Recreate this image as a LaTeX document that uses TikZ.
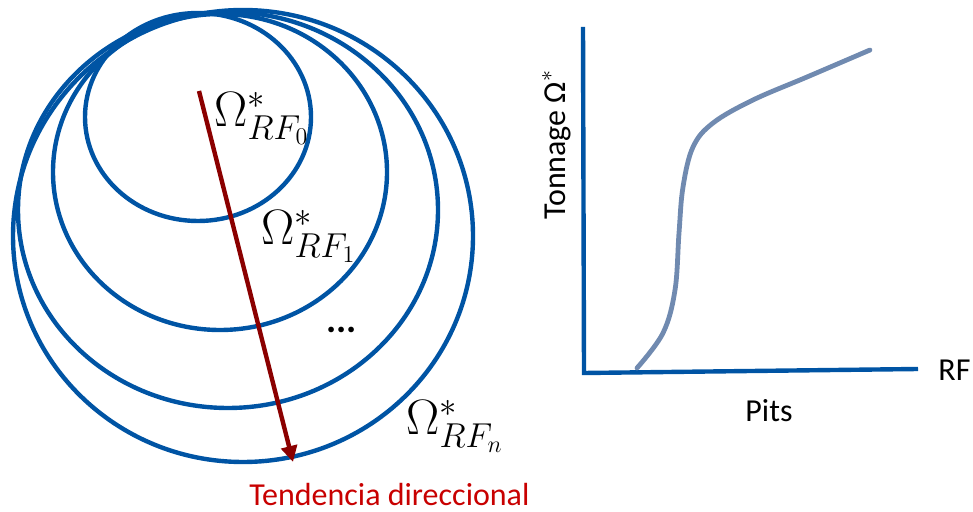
\documentclass[tikz,border=0pt]{standalone}
\usepackage{fontspec}
\setsansfont{Carlito}
\usetikzlibrary{arrows.meta,positioning}
\definecolor{pitblue}{RGB}{0,84,164}
\definecolor{tendred}{RGB}{139,0,0}
\definecolor{labred}{RGB}{200,0,0}
\definecolor{curvegray}{RGB}{112,138,176}

\begin{document}
\begin{tikzpicture}[x=0.5pt,y=-0.5pt,>=Latex]
  \tikzstyle{shell}=[draw=pitblue,line width=2.2pt]
  \tikzstyle{omega}=[font=\fontsize{24}{28}\selectfont,inner sep=0pt,anchor=base west]
  \tikzstyle{txt}=[font=\sffamily\fontsize{16}{19}\selectfont,inner sep=0pt,anchor=base west]
  \useasboundingbox (0,0) rectangle (973,512);
  % pits anidados
  \draw[shell] (198,117) ellipse [x radius=113,y radius=104];
  \draw[shell] (220,172) ellipse [x radius=167,y radius=158];
  \draw[shell] (228,210) ellipse [x radius=210,y radius=198];
  \draw[shell] (243,236) ellipse [x radius=230,y radius=226];
  \node[omega] (om0) at (214,127) {$\Omega^*_{RF_0}$};
  \node[omega] (om1) at (261,245) {$\Omega^*_{RF_1}$};
  \node[omega] (omn) at (406,435) {$\Omega^*_{RF_n}$};
  \node[txt,font=\sffamily\bfseries\fontsize{19}{21}\selectfont] (dots) at (326,333) {...};
  \coordinate (tstart) at (199,91);
  \coordinate (tend) at (293,462);
  \draw[tendred,line width=2.2pt,-{Triangle[length=8pt,width=8pt]}] (tstart) -- (tend);
  \node[txt,text=labred] (tend lab) at (249,505) {Tendencia direccional};
  % curva tonelaje
  \coordinate (org) at (584,373);
  \coordinate (ytop) at (583,27);
  \coordinate (xend) at (918,369);
  \draw[pitblue,line width=2.2pt] (ytop) -- (org) -- (xend);
  \draw[curvegray,line width=2.4pt,line cap=round] plot[smooth,tension=0.6] coordinates {(637,368) (663,333) (675,290) (679,233) (683,187) (693,147) (713,123) (753,100) (807,77) (870,50)};
  \node[txt,rotate=90] (ylab) at (565,220) {Tonnage Ω$^{*}$};
  \node[txt] (rf) at (938,381) {RF};
  \node[txt] (pits) at (745,422) {Pits};
\end{tikzpicture}
\end{document}
